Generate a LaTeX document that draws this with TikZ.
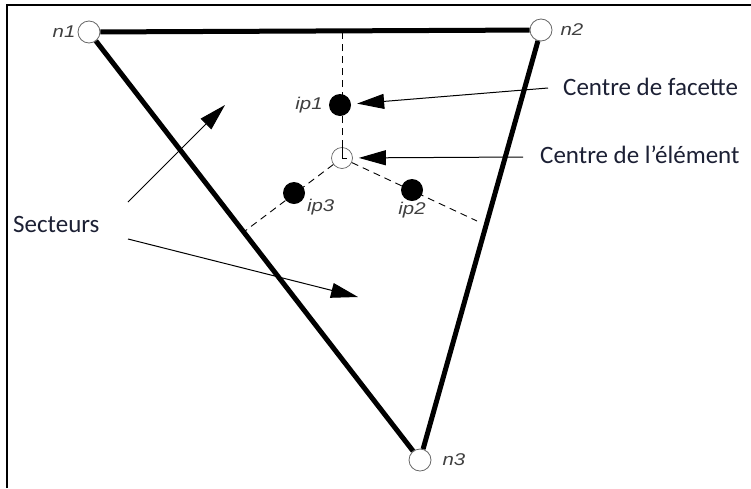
\documentclass[tikz,border=0pt]{standalone}
\usepackage{fontspec}
\setmainfont{Carlito}
\newfontfamily\arialf[FakeStretch=1.2]{Liberation Sans}
\usetikzlibrary{arrows.meta, positioning}

\definecolor{encre}{RGB}{28,32,52}

\tikzset{
  noeud/.style={circle, draw=gray!80!black, fill=white, line width=0.8pt, minimum size=22pt, inner sep=0pt},
  pint/.style={circle, fill=black, minimum size=22pt, inner sep=0pt},
  ctr/.style={circle, draw=gray!80!black, fill=white, line width=0.7pt, minimum size=21pt, inner sep=0pt},
  nlbl/.style={inner sep=0pt, text=black!75, font=\arialf\itshape\fontsize{17}{19}\selectfont},
  legende/.style={inner sep=0pt, text=encre, font=\fontsize{25}{28}\selectfont},
  arete/.style={line width=5pt},
  trait/.style={line width=0.9pt, dash pattern=on 7pt off 5pt},
  fleche/.style={-{Triangle[length=27pt, width=15pt]}, line width=1pt}
}

\begin{document}
\begin{tikzpicture}[x=1pt, y=-1pt]
  \useasboundingbox (0,0) rectangle (751,488);
  \draw[line width=2pt] (7,488) -- (7,5) -- (751,5);

  % sommets et aretes
  \node[noeud] (n1) at (89,32) {};
  \node[noeud] (n2) at (541,30) {};
  \node[noeud] (n3) at (420,460) {};
  \draw[arete] (n1) -- (n2);
  \draw[arete] (n1) -- (n3);
  \draw[arete] (n2) -- (n3);
  \node[nlbl, left=2pt of n1] {n1};
  \node[nlbl, right=8pt of n2] {n2};
  \node[nlbl, right=11pt of n3] {n3};

  % secteurs
  \coordinate (h) at (342,31);
  \coordinate (g) at (245,231);
  \coordinate (d) at (477,221);
  \node[ctr] (c) at (342,158) {};
  \draw (c.north) -- (c.center) -- ++(5,0);
  \draw[trait] (c) -- (h);
  \draw[trait] (c) -- (g);
  \draw[trait] (c) -- (d);

  % points d'integration
  \node[pint] (ip1) at (340,105) {};
  \node[pint] (ip2) at (412,190) {};
  \node[pint] (ip3) at (294,193) {};
  \node[nlbl, left=6pt of ip1] {ip1};
  \node[nlbl, below=1pt of ip2] {ip2};
  \node[nlbl, anchor=north west] at ([xshift=5pt, yshift=2pt]ip3.south east) {ip3};

  % legendes
  \node[legende, anchor=base west] (fac) at (563,95) {Centre de facette};
  \node[legende, anchor=base west] (elt) at (540,163) {Centre de l’élément};
  \node[legende, anchor=base west] (sec) at (13,232) {Secteurs};
  \coordinate (tf) at (548,88);
  \coordinate (te) at (523,157);
  \coordinate (s1) at (128,202);
  \coordinate (s1b) at (225,105);
  \coordinate (s2) at (128,239);
  \coordinate (s2b) at (358,297);
  \draw[fleche, shorten >=6pt] (tf) -- (ip1);
  \draw[fleche, shorten >=6pt] (te) -- (c);
  \draw[fleche] (s1) -- (s1b);
  \draw[fleche] (s2) -- (s2b);
\end{tikzpicture}
\end{document}
